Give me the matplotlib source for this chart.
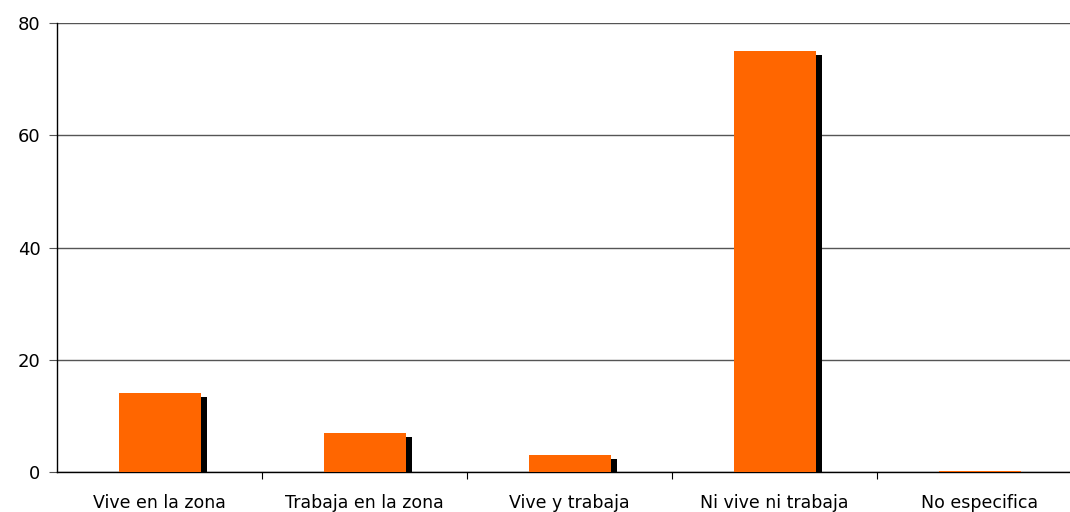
import numpy as np
import matplotlib.pyplot as plt

# --- Data ---
categories = ['Vive en la zona', 'Trabaja en la zona', 'Vive y trabaja',
              'Ni vive ni trabaja', 'No especifica']
values = [14.1, 7.0, 3.0, 75.0, 0.25]
yticks = [0, 20, 40, 60, 80]

orange = '#FF6600'

fig = plt.figure(figsize=(10.70, 5.12), dpi=100)
ax = fig.add_axes([0.0533, 0.078, 0.958, 0.877])

x = np.arange(len(categories))
vals = np.array(values)

# shadow behind the bars (shifted right, slightly lower)
shadow = np.clip(vals - 0.7, 0, None)
ax.bar(x + 0.03, shadow, width=0.4, color='black', zorder=2)
ax.bar(x, vals, width=0.4, color=orange, zorder=3)

ax.set_xlim(-0.5, len(categories) - 0.5)
ax.set_ylim(0, 80)
ax.set_yticks(yticks)
ax.yaxis.grid(True, color='#555555', linewidth=1.0, zorder=0)
ax.set_axisbelow(True)

# category labels centered, ticks at boundaries
ax.set_xticks(x)
ax.set_xticklabels(categories, fontsize=12.5)
ax.tick_params(axis='x', length=0, pad=16)
ax.set_xticks(np.arange(0.5, len(categories) - 0.5), minor=True)
ax.tick_params(axis='x', which='minor', length=5, width=0.8, direction='out')
ax.tick_params(axis='y', length=6, width=0.8, labelsize=13, pad=6, color='#555555')

for side in ['top', 'right']:
    ax.spines[side].set_visible(False)
ax.spines['left'].set_linewidth(1.0)
ax.spines['bottom'].set_linewidth(1.0)

fig.savefig('out.png', dpi=100)
